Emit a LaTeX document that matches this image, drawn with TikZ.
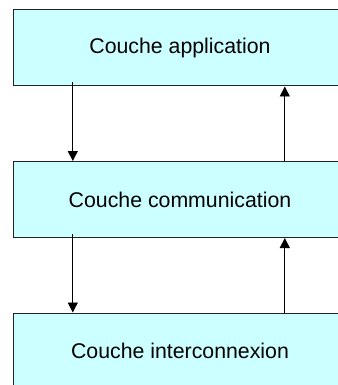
\documentclass[tikz,border=0pt]{standalone}
\usepackage{fontspec}
\setmainfont{Liberation Sans}
\usetikzlibrary{arrows.meta}
\definecolor{layerfill}{HTML}{CCFFFF}
\definecolor{layerdraw}{HTML}{222222}
\begin{document}
\begin{tikzpicture}[x=1pt,y=-1pt,
  layer/.style={draw=layerdraw, line width=1pt, fill=layerfill, minimum width=334pt, minimum height=76pt, inner sep=0pt, font=\fontsize{21.3}{25}\selectfont, text=black},
  arr/.style={draw=black, line width=0.9pt, -{Triangle[length=10pt,width=10pt]}}]
\useasboundingbox (0,0) rectangle (337,385);
\node[layer] (app) at (180,48) {Couche application};
\node[layer] (com) at (180,199.5) {Couche communication};
\node[layer] (int) at (180,351) {Couche interconnexion};
\draw[arr] ([xshift=60.3pt,yshift=4pt]app.south west) -- ([xshift=60.3pt]com.north west);
\draw[arr] ([xshift=272.3pt]com.north west) -- ([xshift=272.3pt]app.south west);
\draw[arr] ([xshift=60.3pt,yshift=4pt]com.south west) -- ([xshift=60.3pt]int.north west);
\draw[arr] ([xshift=272.3pt]int.north west) -- ([xshift=272.3pt]com.south west);
\end{tikzpicture}
\end{document}
